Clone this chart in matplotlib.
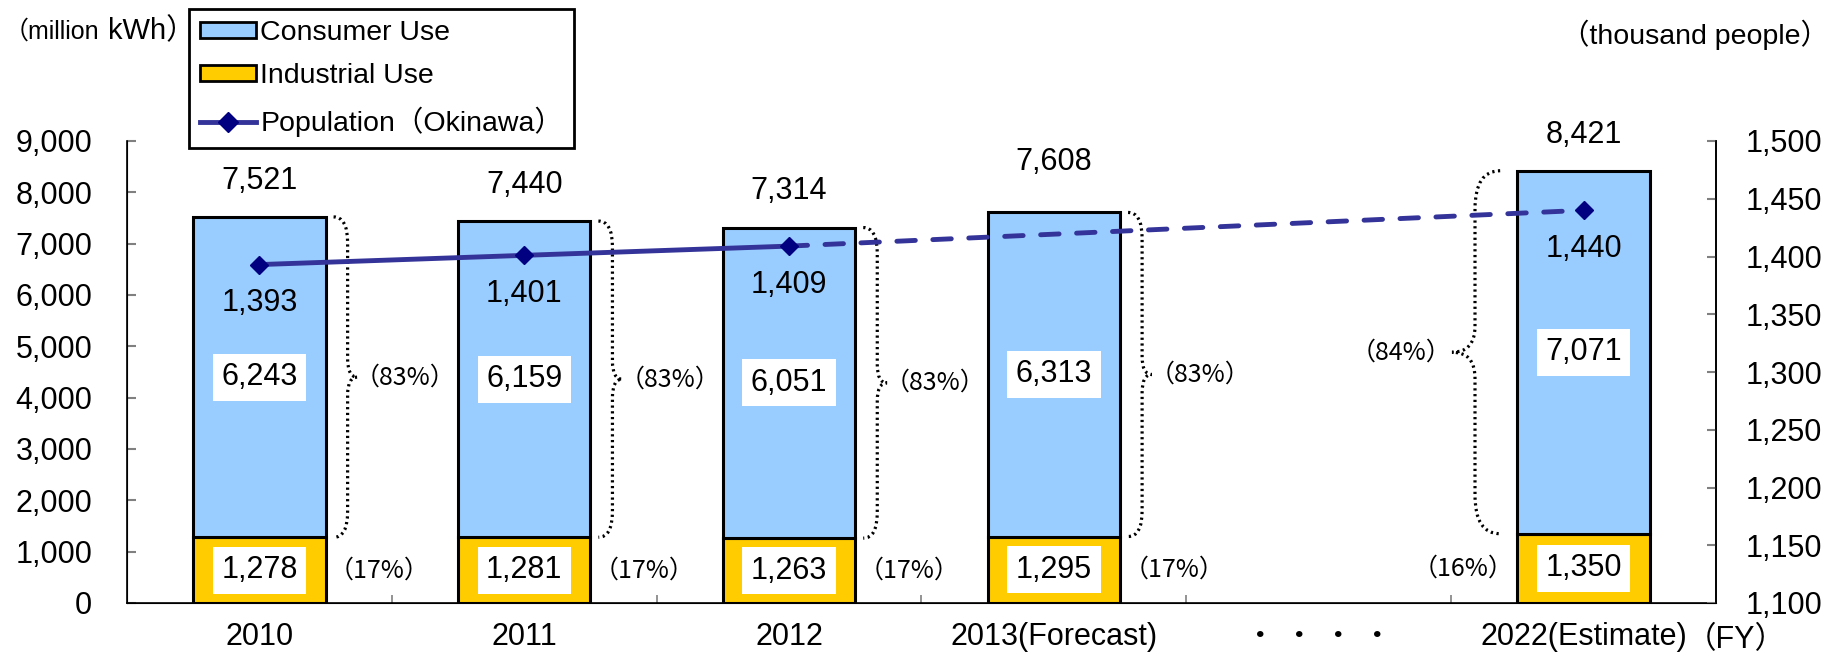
import matplotlib
matplotlib.use("Agg")
import matplotlib.pyplot as plt
from matplotlib.path import Path
from matplotlib.patches import PathPatch, Patch
from matplotlib.lines import Line2D
from matplotlib.ticker import StrMethodFormatter, FixedLocator

plt.rcParams['font.family'] = ['Liberation Sans', 'Noto Sans CJK JP']

# data
xlabels = ['2010', '2011', '2012', '2013(Forecast)', '・ ・ ・ ・', '2022(Estimate)']
positions = [0, 1, 2, 3, 5]
consumer = [6243, 6159, 6051, 6313, 7071]
industrial = [1278, 1281, 1263, 1295, 1350]
totals = [7521, 7440, 7314, 7608, 8421]
population = [1393, 1401, 1409, None, 1440]
consumer_pct = ['83%', '83%', '83%', '83%', '84%']
industrial_pct = ['17%', '17%', '17%', '17%', '16%']

W, H = 1838, 659
fig = plt.figure(figsize=(W / 100, H / 100), dpi=100)
ax = fig.add_axes([127 / W, 56 / H, (1716 - 127) / W, (603 - 141) / H])

blue = '#99CCFF'
gold = '#FFCC00'
line_c = '#333399'
bw = 0.5
fs = 22

ax.bar(positions, industrial, width=bw, color=gold, edgecolor='black', linewidth=2.2, zorder=2)
ax.bar(positions, consumer, width=bw, bottom=industrial, color=blue, edgecolor='black',
       linewidth=2.2, zorder=2)

ax.set_xlim(-0.5, 5.5)
ax.set_ylim(0, 9000)
ax.set_yticks(range(0, 9001, 1000))
ax.yaxis.set_major_formatter(StrMethodFormatter('{x:,.0f}'))
ax.set_xticks(range(6))
ax.set_xticklabels(xlabels)
ax.xaxis.set_minor_locator(FixedLocator([0.5, 1.5, 2.5, 3.5, 4.5]))
ax.tick_params(axis='x', which='major', length=0, labelsize=fs, pad=14)
ax.tick_params(axis='x', which='minor', direction='in', length=6, width=1.2, color='#808080')
ax.tick_params(axis='y', direction='in', length=6.5, width=1.5, color='#808080',
               labelsize=fs, pad=25)
ax.spines['top'].set_visible(False)
for s in ['left', 'bottom', 'right']:
    ax.spines[s].set_linewidth(1.2)

# value labels
box = dict(boxstyle='square,pad=0.28', facecolor='white', edgecolor='none')
for i, x in enumerate(positions):
    ax.text(x, industrial[i] / 2, f'{industrial[i]:,}', ha='center', va='center',
            fontsize=fs, bbox=box, zorder=3)
    ax.text(x, industrial[i] + consumer[i] / 2, f'{consumer[i]:,}', ha='center',
            va='center', fontsize=fs, bbox=box, zorder=3)
    off = 36 if i == 3 else 26
    ax.annotate(f'{totals[i]:,}', (x, totals[i]), xytext=(0, off), textcoords='offset points',
                ha='center', va='center', fontsize=fs)


def brace(x_end, x_vert, x_tip, y0, y1, r, r2):
    ym = (y0 + y1) / 2
    verts = [(x_end, y1), (x_vert, y1), (x_vert, y1 - r),
             (x_vert, ym + r2), (x_vert, ym), (x_tip, ym),
             (x_vert, ym), (x_vert, ym - r2),
             (x_vert, y0 + r), (x_vert, y0), (x_end, y0)]
    codes = [Path.MOVETO, Path.CURVE3, Path.CURVE3, Path.LINETO, Path.CURVE3, Path.CURVE3,
             Path.CURVE3, Path.CURVE3, Path.LINETO, Path.CURVE3, Path.CURVE3]
    ax.add_patch(PathPatch(Path(verts, codes), fill=False, edgecolor='black', linewidth=2.3,
                           linestyle=(0, (0.7, 1.1)), zorder=2))


pct_font = ['Noto Sans CJK JP']
pfs = 18
for i, x in enumerate(positions):
    y0 = industrial[i]
    y1 = totals[i]
    ymid = (y0 + y1) / 2
    if x < 4:
        e = x + bw / 2
        brace(e + 0.03, e + 0.083, e + 0.12, y0, y1, 500, 350)
        ax.text(e + 0.11, ymid, f'（{consumer_pct[i]}）', ha='left', va='center',
                fontsize=pfs, family=pct_font)
        ax.text(e + 0.012, industrial[i] / 2, f'（{industrial_pct[i]}）', ha='left',
                va='center', fontsize=pfs, family=pct_font)
    else:
        brace(x - 0.315, x - 0.41, x - 0.497, y0, y1, 750, 500)
        ax.text(x - 0.5, ymid, f'（{consumer_pct[i]}）', ha='right', va='center',
                fontsize=pfs, family=pct_font)
        ax.text(x - 0.265, industrial[i] / 2, f'（{industrial_pct[i]}）', ha='right',
                va='center', fontsize=pfs, family=pct_font)

# population on the right axis
ax2 = ax.twinx()
ax2.set_ylim(1100, 1500)
ax2.set_yticks(range(1100, 1501, 50))
ax2.yaxis.set_major_formatter(StrMethodFormatter('{x:,.0f}'))
ax2.tick_params(axis='y', direction='in', length=6.5, width=1.5, color='#808080',
                labelsize=fs, pad=21)
ax2.spines['top'].set_visible(False)
ax2.spines['right'].set_linewidth(1.2)

pts = [(x, p) for x, p in zip(positions, population) if p is not None]
actual = pts[:3]
ax2.plot([p[0] for p in actual], [p[1] for p in actual], color=line_c, lw=3.5,
         solid_capstyle='round', zorder=3)
proj = [pts[2], pts[3]]
ax2.plot([p[0] for p in proj], [p[1] for p in proj], color=line_c, lw=3.5,
         linestyle=(0, (3.8, 3.6)), dash_capstyle='round', zorder=3)
ax2.plot([p[0] for p in pts], [p[1] for p in pts], linestyle='none', marker='D',
         markersize=9, color='#000080', zorder=4)
for x, p in pts:
    ax2.annotate(f'{p:,}', (x, p), xytext=(0, -28), textcoords='offset points',
                 ha='center', va='center', fontsize=fs)

# legend
handles = [Patch(facecolor=blue, edgecolor='black', linewidth=2),
           Patch(facecolor=gold, edgecolor='black', linewidth=2),
           Line2D([], [], color=line_c, lw=3.5, marker='D', markersize=10,
                  markerfacecolor='#000080', markeredgecolor='#000080')]
leg = fig.legend(handles, ['Consumer Use', 'Industrial Use', 'Population（Okinawa）'],
                 loc='upper left', bbox_to_anchor=(189 / W, 1 - 9 / H), fontsize=20.5,
                 frameon=True, fancybox=False, edgecolor='black', framealpha=1,
                 borderpad=0.4, labelspacing=0.6, handlelength=1.95, handleheight=0.5,
                 handletextpad=0.15, borderaxespad=0)
leg.get_frame().set_linewidth(2)

# unit labels
fig.text(4 / W, 1 - 32 / H, '（million', fontsize=18, ha='left', va='center')
fig.text(108 / W, 1 - 31 / H, 'kWh）', fontsize=21, ha='left', va='center')
fig.text(1829 / W, 1 - 35 / H, '（thousand people）', fontsize=20.5, ha='right', va='center')
fig.text(1686 / W, 1 - 640 / H, '（FY）', fontsize=fs, ha='left', va='center')

fig.savefig('out.png', dpi=100)
